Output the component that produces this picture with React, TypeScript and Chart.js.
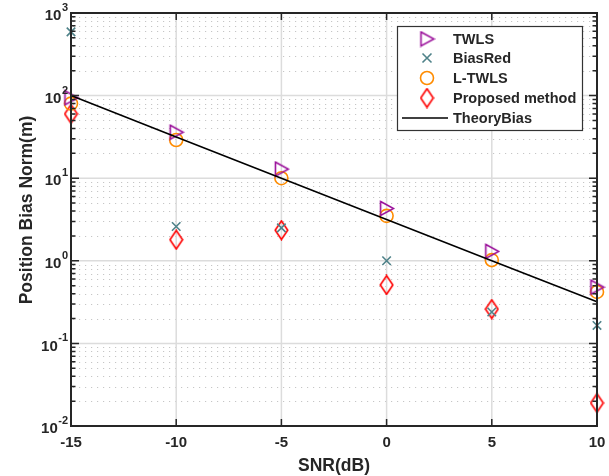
import React, { useEffect, useRef } from "react";
import { Chart, registerables } from "chart.js";
Chart.register(...registerables);

const snr = [-15, -10, -5, 0, 5, 10];
const twls = [94, 36, 12.9, 4.3, 1.3, 0.48];
const biasRed = [590, 2.6, 2.5, 1.0, 0.24, 0.165];
const lTwls = [80, 29, 10, 3.5, 1.02, 0.42];
const proposed = [60, 1.8, 2.35, 0.51, 0.26, 0.019];
const theory = [100, 31.6, 10, 3.16, 1.0, 0.32];
const xTickValues = [-15, -10, -5, 0, 5, 10];
const yDecadeExps = [-2, -1, 0, 1, 2, 3];
const legendLabels = ["TWLS", "BiasRed", "L-TWLS", "Proposed method", "TheoryBias"];

const PURPLE = "#9a0f9a";
const TEAL = "#4f8289";
const ORANGE = "#ff8c00";
const RED = "#ff0000";
const AX = "#262626";
const FONT = '"Liberation Sans", Arial, sans-serif';

function makeTriangle(color: string) {
  const c = document.createElement("canvas");
  c.width = 17; c.height = 17;
  const g = c.getContext("2d")!;
  g.strokeStyle = color; g.lineWidth = 1.6;
  g.beginPath(); g.moveTo(2.5, 1.5); g.lineTo(15.5, 8.5); g.lineTo(2.5, 15.5); g.closePath(); g.stroke();
  return c;
}
function makeDiamond(color: string) {
  const c = document.createElement("canvas");
  c.width = 15; c.height = 21;
  const g = c.getContext("2d")!;
  g.strokeStyle = color; g.lineWidth = 1.6;
  g.beginPath(); g.moveTo(7.5, 1.2); g.lineTo(13.8, 10.5); g.lineTo(7.5, 19.8); g.lineTo(1.2, 10.5); g.closePath(); g.stroke();
  return c;
}

const pts = (vals: number[]) => snr.map((x, i) => ({ x, y: vals[i] }));

export default function App() {
  const ref = useRef<HTMLCanvasElement>(null);
  useEffect(() => {
    const tri = makeTriangle(PURPLE);
    const dia = makeDiamond(RED);
    const plugin = {
      id: "matlabLook",
      beforeDatasetsDraw(chart: any) {
        const { ctx, chartArea: { left, right, top, bottom }, scales: { x, y } } = chart;
        ctx.save();
        // minor dotted grid
        ctx.strokeStyle = "#c6c6c6"; ctx.lineWidth = 1; ctx.setLineDash([1.2, 4.8]);
        for (let d = -2; d < 3; d++) {
          for (let m = 2; m <= 9; m++) {
            const yy = Math.round(y.getPixelForValue(m * Math.pow(10, d))) + 0.5;
            ctx.beginPath(); ctx.moveTo(left + 2, yy); ctx.lineTo(right, yy); ctx.stroke();
          }
        }
        ctx.setLineDash([]);
        ctx.strokeStyle = "#dcdcdc"; ctx.lineWidth = 1.5;
        xTickValues.forEach((v) => {
          const xx = x.getPixelForValue(v);
          ctx.beginPath(); ctx.moveTo(xx, top); ctx.lineTo(xx, bottom); ctx.stroke();
        });
        yDecadeExps.forEach((e) => {
          const yy = y.getPixelForValue(Math.pow(10, e));
          ctx.beginPath(); ctx.moveTo(left, yy); ctx.lineTo(right, yy); ctx.stroke();
        });
        ctx.restore();
      },
      afterDatasetsDraw(chart: any) {
        const { ctx, chartArea: { left, right, top, bottom }, scales: { x, y } } = chart;
        ctx.save();
        ctx.strokeStyle = AX; ctx.lineWidth = 2;
        ctx.strokeRect(left, top, right - left, bottom - top);
        ctx.lineWidth = 1.5;
        // x ticks
        xTickValues.forEach((v) => {
          const xx = x.getPixelForValue(v);
          ctx.beginPath();
          ctx.moveTo(xx, bottom); ctx.lineTo(xx, bottom - 7);
          ctx.moveTo(xx, top); ctx.lineTo(xx, top + 7);
          ctx.stroke();
        });
        // y ticks
        for (let d = -2; d <= 3; d++) {
          const yy = y.getPixelForValue(Math.pow(10, d));
          ctx.beginPath();
          ctx.moveTo(left, yy); ctx.lineTo(left + 8, yy);
          ctx.moveTo(right, yy); ctx.lineTo(right - 8, yy);
          ctx.stroke();
          if (d < 3) {
            for (let m = 2; m <= 9; m++) {
              const ym = y.getPixelForValue(m * Math.pow(10, d));
              ctx.beginPath();
              ctx.moveTo(left, ym); ctx.lineTo(left + 4.5, ym);
              ctx.moveTo(right, ym); ctx.lineTo(right - 4.5, ym);
              ctx.stroke();
            }
          }
        }
        // tick labels
        ctx.fillStyle = AX;
        ctx.textBaseline = "middle";
        ctx.font = `bold 15px ${FONT}`;
        ctx.textAlign = "center";
        xTickValues.forEach((v) => {
          ctx.fillText(String(v), x.getPixelForValue(v), bottom + 17);
        });
        yDecadeExps.forEach((e) => {
          const yy = y.getPixelForValue(Math.pow(10, e));
          ctx.font = `bold 11px ${FONT}`;
          const sup = String(e);
          const sw = ctx.measureText(sup).width;
          const rightEdge = left - 3;
          ctx.textAlign = "right";
          ctx.fillText(sup, rightEdge, yy - 5);
          ctx.font = `bold 15px ${FONT}`;
          ctx.fillText("10", rightEdge - sw - 0.5, yy + 3);
        });
        // axis titles
        ctx.font = `bold 17.5px ${FONT}`;
        ctx.textAlign = "center";
        ctx.fillText("SNR(dB)", (left + right) / 2, 466);
        ctx.save();
        ctx.translate(27, 210);
        ctx.rotate(-Math.PI / 2);
        ctx.fillText("Position Bias Norm(m)", 0, 0);
        ctx.restore();
        // legend
        const lx = 397, ly = 26, lw = 185, lh = 104;
        ctx.fillStyle = "#ffffff";
        ctx.fillRect(lx, ly, lw, lh);
        ctx.strokeStyle = "#333333"; ctx.lineWidth = 1.2;
        ctx.strokeRect(lx + 0.5, ly + 0.5, lw, lh);
        const rows = [39, 58, 78, 98, 118];
        const mx = 427;
        ctx.drawImage(tri, mx - 8.5, rows[0] - 8.5);
        ctx.strokeStyle = TEAL; ctx.lineWidth = 1.6;
        ctx.beginPath();
        ctx.moveTo(mx - 4.5, rows[1] - 4.5); ctx.lineTo(mx + 4.5, rows[1] + 4.5);
        ctx.moveTo(mx + 4.5, rows[1] - 4.5); ctx.lineTo(mx - 4.5, rows[1] + 4.5);
        ctx.stroke();
        ctx.strokeStyle = ORANGE;
        ctx.beginPath(); ctx.arc(mx, rows[2], 6.5, 0, Math.PI * 2); ctx.stroke();
        ctx.drawImage(dia, mx - 7.5, rows[3] - 10.5);
        ctx.strokeStyle = "#000"; ctx.lineWidth = 1.5;
        ctx.beginPath(); ctx.moveTo(402, rows[4]); ctx.lineTo(448, rows[4]); ctx.stroke();
        ctx.fillStyle = AX;
        ctx.font = `bold 14.5px ${FONT}`;
        ctx.textAlign = "left";
        legendLabels.forEach((t, i) => ctx.fillText(t, 453, rows[i] + 1));
        ctx.restore();
      },
    };
    const chart = new Chart(ref.current!, {
      type: "scatter",
      data: {
        datasets: [
          { label: legendLabels[4], data: pts(theory), showLine: true, borderColor: "#000", borderWidth: 1.6, pointRadius: 0, clip: false } as any,
          { label: legendLabels[0], data: pts(twls), pointStyle: tri, pointRadius: 8, clip: false } as any,
          { label: legendLabels[1], data: pts(biasRed), pointStyle: "crossRot", pointRadius: 6, borderColor: TEAL, borderWidth: 1.6, clip: false } as any,
          { label: legendLabels[2], data: pts(lTwls), pointStyle: "circle", pointRadius: 6.5, borderColor: ORANGE, backgroundColor: "rgba(0,0,0,0)", borderWidth: 1.6, clip: false } as any,
          { label: legendLabels[3], data: pts(proposed), pointStyle: dia, pointRadius: 8, clip: false } as any,
        ],
      },
      options: {
        responsive: false,
        animation: false,
        layout: { padding: { left: 71, right: 12, top: 13, bottom: 50 } },
        plugins: { legend: { display: false }, tooltip: { enabled: false } },
        scales: {
          x: { type: "linear", min: -15, max: 10, display: false },
          y: { type: "logarithmic", min: 0.01, max: 1000, display: false },
        },
      },
      plugins: [plugin],
    });
    return () => chart.destroy();
  }, []);
  return (
    <div style={{ position: "fixed", left: 0, top: 0, width: 609, height: 476, background: "#fff" }}>
      <canvas ref={ref} width={609} height={476} style={{ width: 609, height: 476, display: "block" }} />
    </div>
  );
}
